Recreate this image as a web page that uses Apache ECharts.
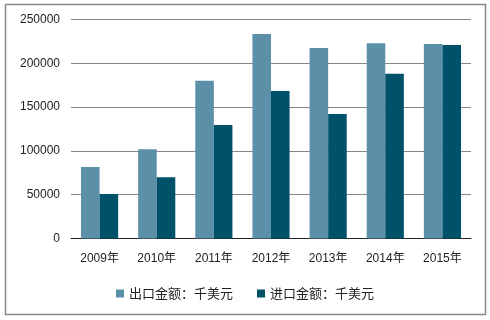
<!DOCTYPE html>
<html><head><meta charset="utf-8">
<script src="https://cdn.jsdelivr.net/npm/echarts@6/dist/echarts.min.js"></script>
<style>html,body{margin:0;padding:0;background:#fff}#c{width:490px;height:320px}</style>
</head><body><div id="c"></div>
<script>
const categories = ['2009年','2010年','2011年','2012年','2013年','2014年','2015年'];
const exportName = '出口金额：千美元';
const importName = '进口金额：千美元';
const exportValues = [81500, 102000, 180000, 233500, 217500, 223000, 222000];
const importValues = [50800, 70000, 129500, 168500, 142000, 188000, 221000];
const yTicks = [0, 50000, 100000, 150000, 200000, 250000];

const font = '"Liberation Sans", "Noto Sans CJK SC", sans-serif';
const cjkFont = '"Noto Sans CJK SC", "Liberation Sans", sans-serif';
const chart = echarts.init(document.getElementById('c'), null, {renderer:'canvas'});
chart.setOption({
  animation: false,
  backgroundColor: '#fff',
  color: ['#5b90a8', '#00526b'],
  grid: {left: 71, right: 19, top: 19.5, bottom: 81.5, containLabel: false},
  legend: {
    bottom: 15, left: 'center',
    itemWidth: 8, itemHeight: 8, itemGap: 24,
    icon: 'rect',
    textStyle: {fontFamily: cjkFont, fontSize: 13, color: '#222'},
    data: [exportName, importName]
  },
  xAxis: {
    type: 'category', data: categories,
    axisLine: {lineStyle: {color: '#222', width: 1}},
    axisTick: {show: false},
    axisLabel: {fontFamily: font, fontSize: 12, color: '#222', margin: 14}
  },
  yAxis: {
    type: 'value', min: yTicks[0], max: yTicks[yTicks.length-1], interval: 50000,
    axisLine: {show: false}, axisTick: {show: false},
    axisLabel: {fontFamily: font, fontSize: 12, color: '#222', margin: 11, formatter: v => String(v)},
    splitLine: {lineStyle: {color: '#888', width: 1}}
  },
  series: [
    {name: exportName, type: 'bar', data: exportValues, barGap: '0%', barCategoryGap: '35%'},
    {name: importName, type: 'bar', data: importValues, barGap: '0%', barCategoryGap: '35%'}
  ],
  graphic: [{
    type: 'rect', shape: {x: 5.5, y: 4.5, width: 480, height: 310},
    style: {fill: 'none', stroke: '#888', lineWidth: 1.5}, silent: true
  }]
});
</script></body></html>
